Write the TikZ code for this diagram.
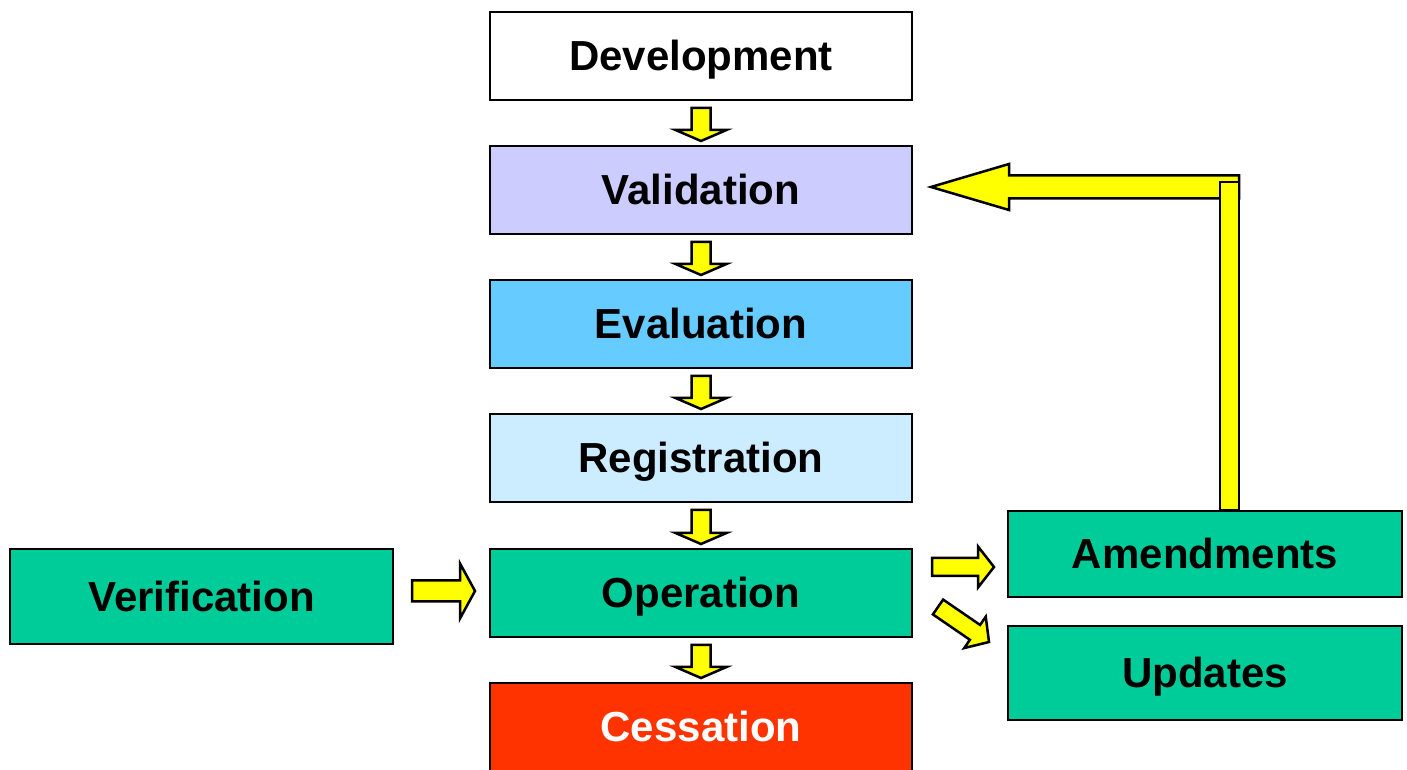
\documentclass[tikz,border=0pt]{standalone}
\usepackage{fontspec}
\setmainfont{Liberation Sans}
\usetikzlibrary{calc}
\definecolor{cval}{HTML}{CCCCFF}
\definecolor{ceva}{HTML}{66CCFF}
\definecolor{creg}{HTML}{CCECFF}
\definecolor{cgrn}{HTML}{00CC99}
\definecolor{cces}{HTML}{FF3300}
\definecolor{cyel}{HTML}{FFFF00}
\tikzset{
  box/.style={draw=black, line width=2pt, minimum width=422pt, minimum height=88pt,
    inner sep=0pt, text height=30pt, text depth=0pt,
    font=\fontsize{42}{50}\selectfont\bfseries, text=black},
  yarrow/.style={draw=black, fill=cyel, line width=2.5pt, line join=miter}
}
% #1 from, #2 to, #3 shaft half width, #4 head half width, #5 head length
\newcommand\blockarrow[5]{%
  \coordinate (bah) at ($(#2)!#5!(#1)$);
  \draw[yarrow] ($(#1)!#3!90:(#2)$) -- ($(bah)!#3!90:(#2)$) -- ($(bah)!#4!90:(#2)$)
    -- (#2) -- ($(bah)!#4!-90:(#2)$) -- ($(bah)!#3!-90:(#2)$) -- ($(#1)!#3!-90:(#2)$) -- cycle;}
\begin{document}
\begin{tikzpicture}[x=1pt,y=1pt]
\useasboundingbox (0,0) rectangle (1407,770);
\node[box, fill=white] (dev) at (701,714) {Development};
\node[box, fill=cval] (val) at (701,580) {Validation};
\node[box, fill=ceva] (eva) at (701,446) {Evaluation};
\node[box, fill=creg] (reg) at (701,312) {Registration};
\node[box, fill=cgrn] (ope) at (701,177) {Operation};
\node[box, fill=cces, text=white] (ces) at (701,43) {Cessation};
\node[box, fill=cgrn, minimum width=383pt, minimum height=95pt] (ver) at (201.5,173.5) {Verification};
\node[box, fill=cgrn, minimum width=394pt, minimum height=86pt] (amd) at (1205,216) {Amendments};
\node[box, fill=cgrn, minimum width=394pt, minimum height=94pt] (upd) at (1205,97) {Updates};
% down arrows
\foreach \a/\b in {dev/val, val/eva, eva/reg, reg/ope, ope/ces}{
  \coordinate (da) at ($(\a.south)+(0,-7)$);
  \coordinate (db) at ($(\b.north)+(0,4)$);
  \blockarrow{da}{db}{9.5pt}{25.5pt}{11pt}
}
% verification -> operation
\coordinate (va) at ($(ope.west)+(-77,2)$);
\coordinate (vb) at ($(ope.west)+(-14,2)$);
\blockarrow{va}{vb}{10.5pt}{27.5pt}{15pt}
% operation -> amendments
\coordinate (aa) at ($(ope.east)+(19,26)$);
\coordinate (ab) at ($(amd.west)+(-13,-13)$);
\blockarrow{aa}{ab}{9pt}{20.5pt}{16pt}
% operation -> updates
\coordinate (ua) at ($(ope.east)+(25,-14)$);
\coordinate (ub) at ($(upd.west)+(-18,31)$);
\blockarrow{ua}{ub}{9pt}{19pt}{17pt}
% feedback amendments -> validation
\coordinate (fbtip) at ($(val.east)+(18,3)$);
\coordinate (amdR) at ($(amd.north)+(34,0)$);
\coordinate (fbtail) at (amdR |- fbtip);
\blockarrow{fbtail}{fbtip}{11.5pt}{23pt}{78pt}
\draw[yarrow] ($(amd.north)+(15,0)$) rectangle ($(amd.north)+(34,328)$);
\end{tikzpicture}
\end{document}
